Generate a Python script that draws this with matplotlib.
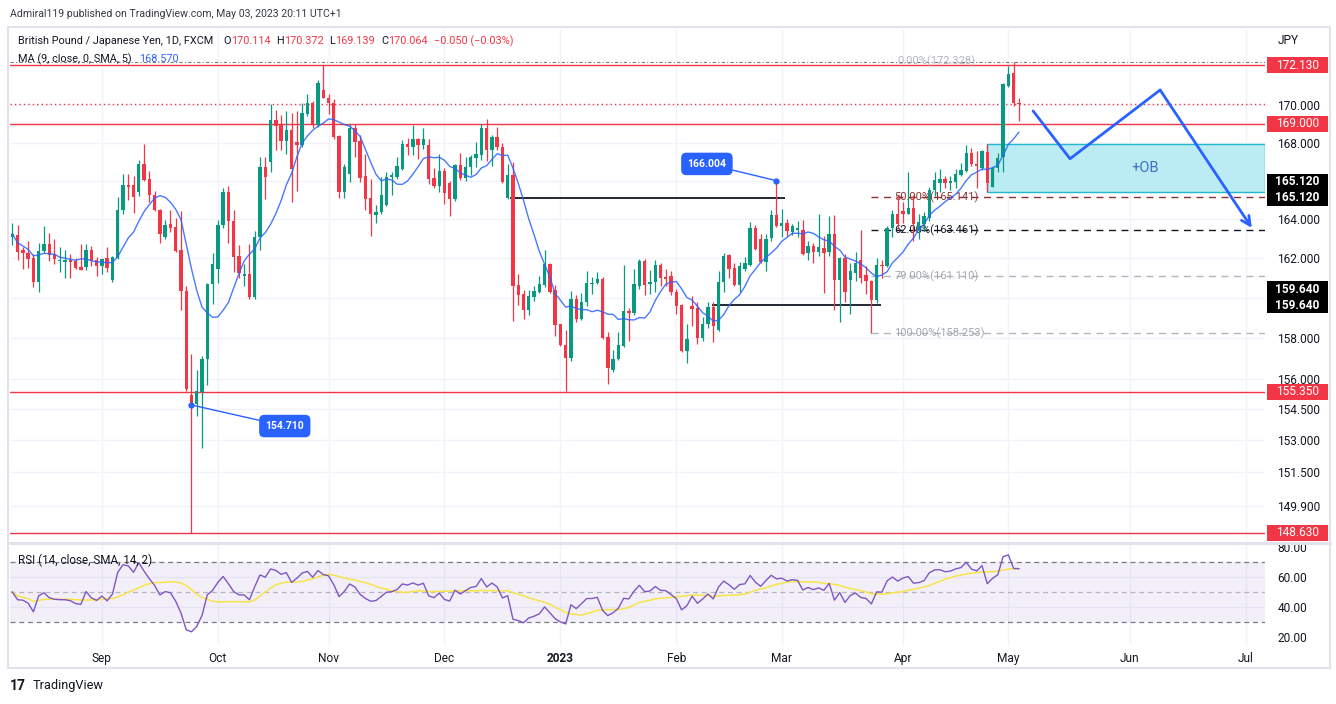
import numpy as np
import pandas as pd
import matplotlib
matplotlib.use("Agg")
import matplotlib.pyplot as plt
import matplotlib.transforms as mtransforms
from matplotlib.patches import Rectangle
from matplotlib.lines import Line2D
from matplotlib.ticker import FixedLocator, FuncFormatter, NullLocator

plt.rcParams['font.family'] = ['Roboto', 'DejaVu Sans']

# ---------------- data ----------------
start_date = '2022-08-09'

opens = [163.1, 163.2, 162.45, 162.3, 162.0, 160.8, 162.4, 162.75, 162.25, 161.85,
         161.8, 161.9, 161.85, 161.55, 161.55, 162.45, 161.9, 161.6, 162.0, 160.9,
         162.0, 164.5, 165.8, 165.8, 165.4, 166.85, 166.1, 165.25, 164.5, 163.1,
         163.75, 163.6, 162.45, 160.35, 155.2, 154.75, 155.35, 156.95, 160.7, 161.45,
         163.7, 165.4, 163.9, 162.1, 161.1, 161.2, 160.05, 163.1, 166.7, 167.0,
         169.2, 169.0, 168.1, 168.65, 168.05, 167.85, 169.5, 170.1, 168.95, 170.8,
         170.35, 170.1, 168.35, 165.4, 166.35, 168.75, 168.1, 166.25, 165.1, 164.2,
         164.4, 164.75, 166.2, 166.2, 166.6, 167.95, 167.75, 168.2, 167.85, 167.9,
         166.15, 165.75, 166.5, 165.9, 165.05, 166.8, 166.15, 166.7, 167.2, 167.35,
         168.8, 167.6, 168.3, 167.75, 165.1, 166.3, 160.65, 160.2, 159.4, 160.05,
         160.3, 160.65, 161.7, 160.4, 158.7, 157.65, 157.0, 159.95, 158.95, 159.8,
         160.7, 160.75, 160.95, 158.05, 156.4, 156.95, 157.6, 159.35, 159.25, 160.6,
         161.85, 160.7, 160.8, 161.65, 161.05, 161.1, 160.3, 159.65, 157.35, 159.6,
         159.5, 158.0, 158.7, 159.55, 158.4, 160.8, 162.15, 161.5, 160.65, 161.45,
         161.65, 163.55, 163.0, 161.8, 163.05, 164.2, 163.65, 163.8, 163.35, 163.45,
         163.45, 162.3, 162.65, 162.35, 162.55, 162.35, 163.25, 160.9, 162.0, 160.9,
         161.25, 161.9, 161.15, 160.85, 159.9, 161.65, 161.6, 163.55, 164.3, 164.45,
         164.3, 164.6, 163.45, 163.75, 164.05, 165.5, 165.9, 166.1, 165.9, 165.95,
         166.3, 166.5, 167.45, 166.9, 166.65, 167.5, 165.7, 166.65, 167.25, 171.0,
         171.7, 170.114]

highs = [163.8, 163.7, 162.6, 162.9, 162.2, 162.8, 163.65, 163.3, 163.0, 162.6,
         162.45, 162.2, 162.0, 162.75, 162.75, 162.65, 162.05, 162.0, 162.6, 162.1,
         165.15, 166.35, 166.35, 166.25, 167.1, 167.95, 166.5, 165.45, 164.55, 163.95,
         164.5, 164.05, 164.45, 160.6, 157.2, 156.4, 157.1, 160.75, 162.3, 163.95,
         165.6, 165.75, 164.5, 162.7, 161.7, 162.75, 163.4, 167.25, 167.25, 170.05,
         169.75, 169.45, 169.7, 169.55, 169.7, 170.1, 170.6, 170.2, 171.35, 172.13,
         170.6, 170.3, 168.4, 166.9, 169.0, 169.0, 168.4, 167.4, 166.1, 164.75,
         166.2, 166.45, 166.45, 167.25, 168.15, 168.25, 168.95, 168.25, 168.75, 168.2,
         166.65, 167.4, 166.65, 166.0, 166.85, 167.45, 167.25, 167.35, 168.05, 169.0,
         169.25, 168.4, 168.85, 168.0, 166.9, 167.0, 161.2, 160.4, 160.4, 160.6,
         161.1, 162.45, 161.75, 160.65, 158.7, 158.4, 160.35, 160.15, 160.25, 161.35,
         161.05, 161.3, 161.05, 158.3, 157.4, 158.3, 161.65, 159.5, 161.45, 161.95,
         161.95, 161.4, 161.9, 161.75, 161.45, 161.35, 160.45, 159.7, 158.7, 160.1,
         159.8, 159.05, 159.8, 159.8, 161.35, 162.3, 162.25, 161.75, 161.8, 162.05,
         163.85, 163.7, 163.25, 163.25, 164.5, 166.004, 164.55, 164.0, 163.75, 163.9,
         163.95, 162.9, 162.8, 164.3, 163.15, 164.15, 164.2, 162.05, 162.25, 161.75,
         162.35, 163.45, 161.6, 160.9, 162.0, 161.9, 163.65, 164.5, 165.25, 164.9,
         166.45, 165.25, 164.25, 164.4, 165.65, 166.45, 166.6, 166.25, 166.25, 166.6,
         166.95, 167.9, 167.7, 167.55, 167.6, 167.95, 166.75, 167.45, 171.15, 172.1,
         172.328, 170.372]

lows = [162.7, 161.9, 161.45, 161.5, 160.55, 160.3, 162.3, 161.85, 161.7, 161.3,
        161.0, 161.0, 161.45, 161.4, 161.4, 161.6, 161.1, 161.2, 161.3, 160.8,
        161.95, 164.25, 165.0, 164.35, 165.2, 166.0, 164.9, 164.45, 162.8, 163.0,
        163.35, 162.35, 159.4, 155.4, 148.63, 154.2, 152.65, 155.7, 159.7, 160.75,
        163.55, 162.8, 161.3, 161.0, 160.6, 159.95, 159.95, 162.45, 165.05, 166.45,
        167.6, 167.6, 167.4, 164.9, 165.45, 167.75, 169.4, 168.75, 168.85, 170.35,
        169.5, 168.2, 165.1, 165.1, 165.95, 167.25, 165.95, 164.5, 163.15, 163.8,
        164.25, 164.7, 165.25, 166.1, 166.55, 167.35, 167.35, 167.15, 167.65, 165.85,
        165.6, 165.4, 164.8, 164.15, 164.95, 166.05, 166.0, 166.3, 166.7, 167.1,
        167.05, 166.75, 167.6, 165.9, 165.05, 158.85, 159.65, 158.95, 159.15, 159.85,
        160.25, 160.55, 160.25, 158.1, 157.6, 155.4, 156.85, 158.8, 158.9, 159.6,
        160.2, 160.7, 157.95, 155.75, 156.3, 156.9, 157.55, 157.85, 159.15, 160.45,
        160.15, 160.2, 160.3, 160.6, 160.6, 160.15, 159.2, 157.3, 156.75, 158.6,
        157.7, 157.85, 158.5, 157.8, 158.35, 160.3, 161.0, 160.6, 160.3, 161.35,
        161.6, 162.45, 161.75, 161.35, 162.9, 163.6, 163.1, 163.15, 163.2, 163.1,
        162.15, 161.9, 161.75, 162.1, 160.25, 162.1, 159.4, 158.8, 159.8, 159.2,
        160.85, 160.75, 160.2, 158.253, 159.75, 161.0, 161.55, 163.1, 163.55, 163.8,
        164.25, 162.9, 163.0, 163.4, 163.9, 165.2, 165.4, 165.6, 165.5, 165.6,
        166.25, 166.45, 166.75, 165.6, 166.55, 165.4, 165.65, 166.45, 166.45, 170.95,
        169.95, 169.139]

closes = [163.25, 162.35, 162.3, 161.95, 160.8, 162.4, 162.75, 162.15, 161.95, 161.9,
          161.9, 161.8, 161.5, 161.42, 162.45, 161.85, 161.6, 161.95, 161.5, 162.05,
          164.5, 165.8, 165.7, 165.15, 166.85, 166.05, 165.25, 164.5, 163.25, 163.7,
          163.55, 162.4, 160.35, 155.5, 154.71, 155.4, 156.95, 160.7, 161.7, 163.7,
          165.4, 163.9, 162.05, 161.25, 161.2, 160.05, 163.1, 166.7, 166.2, 169.2,
          168.9, 168.1, 168.65, 166.6, 167.85, 169.55, 170.1, 168.95, 171.15, 170.35,
          170.1, 168.3, 165.4, 166.7, 168.75, 168.05, 166.15, 165.05, 164.25, 164.4,
          165.25, 166.2, 166.3, 166.75, 167.95, 167.75, 168.2, 167.85, 168.2, 166.1,
          165.75, 166.5, 165.35, 165.05, 166.8, 166.15, 166.7, 167.25, 167.4, 168.8,
          167.6, 168.3, 167.75, 165.95, 166.3, 160.6, 160.15, 159.4, 160.1, 160.35,
          160.7, 161.7, 160.3, 158.65, 157.65, 157.0, 159.95, 158.95, 159.8, 160.75,
          160.75, 160.95, 158.0, 156.5, 156.95, 157.65, 159.35, 159.25, 160.7, 161.85,
          160.65, 160.8, 161.65, 161.0, 160.95, 160.3, 159.6, 157.35, 157.95, 159.45,
          158.0, 158.7, 159.55, 158.6, 160.8, 162.1, 161.45, 160.65, 161.6, 161.75,
          163.55, 162.5, 161.8, 163.0, 164.2, 163.65, 163.8, 163.4, 163.65, 163.55,
          162.25, 162.65, 162.35, 162.6, 162.3, 163.25, 160.9, 162.0, 160.3, 161.35,
          161.75, 161.0, 160.85, 159.9, 161.65, 161.6, 163.55, 164.3, 163.75, 164.3,
          164.6, 163.75, 163.85, 164.15, 165.5, 166.05, 166.1, 165.9, 166.0, 166.35,
          166.55, 167.45, 166.9, 166.75, 167.55, 165.9, 166.65, 167.2, 171.1, 171.65,
          170.1, 170.064]

price_ticks = [170.0, 168.0, 164.0, 162.0, 160.0, 158.0, 156.0, 154.5, 153.0, 151.5, 149.9]
price_grid = [170.0, 168.0, 166.0, 164.0, 162.0, 160.0, 158.0, 156.0, 154.5, 153.0, 151.5, 149.9]
rsi_ticks = [80, 60, 40, 20]

red_levels = [172.13, 169.0, 155.35, 148.63]
red_labels = ['172.130', '169.000', '155.350', '148.630']

black_levels = [165.12, 159.64]
black_starts = [94.5, 132.7]
black_ends = [146.7, 164.8]
black_labels = ['165.120', '159.640']

fib_top = 172.328
fib_labels = ['50.00%(165.141)', '62.00%(163.461)', '79.00%(161.110)', '100.00%(158.253)']
fib_values = [165.141, 163.461, 161.110, 158.253]
fib_colors = ['#8b3131', '#131722', '#b2b5be', '#b2b5be']
fib_text_colors = ['#8b3131', '#131722', '#a3a6af', '#a3a6af']
fib_start = 163

ob_bar = 185
proj_x = [193.7, 200.7, 217.8, 235.2]
proj_y = [169.68, 167.15, 170.80, 163.56]

callout_values = ['166.004', '154.710']
callout_bars = [145, 34]
callout_prices = [166.004, 154.71]
callout_box_x = [131.8, 51.7]
callout_box_y = [166.88, 153.69]

header = 'Admiral119 published on TradingView.com, May 03, 2023 20:11 UTC+1'

# ---------------- style ----------------
GREEN = '#089981'
RED = '#f23645'
BLUE = '#2962ff'
TXT = '#131722'
GRID = '#f0f3fa'

W, H = 1336, 704
def fx(x):
    return x / W
def fy(y):
    return 1 - y / H

fig = plt.figure(figsize=(W / 100, H / 100), dpi=100)
fig.patch.set_facecolor('white')

AX_L, AX_R = 10, 1265
ax = fig.add_axes([fx(AX_L), fy(541), (AX_R - AX_L) / W, 511 / H])
axr = fig.add_axes([fx(AX_L), fy(645), (AX_R - AX_L) / W, 102 / H])

n = len(closes)
idx = np.arange(n)
o = np.array(opens); h = np.array(highs); l = np.array(lows); c = np.array(closes)
XMIN, XMAX = -0.44, 237.7
YMIN, YMAX = 148.24, 174.05
K = 511 / np.log(YMAX / YMIN)   # pixels per log-unit in the price pane

# ---- price pane ----
ax.set_yscale('log')
ax.set_xlim(XMIN, XMAX)
ax.set_ylim(YMIN, YMAX)
for s in ax.spines.values():
    s.set_visible(False)

ext_dates = pd.bdate_range(start_date, periods=260)
month_idx, month_lbl = [], []
for i in range(1, len(ext_dates)):
    if ext_dates[i].month != ext_dates[i - 1].month and XMIN <= i <= XMAX:
        month_idx.append(i)
        d = ext_dates[i]
        month_lbl.append(str(d.year) if d.month == 1 else d.strftime('%b'))

for xi in month_idx:
    ax.axvline(xi, color=GRID, lw=1, zorder=0)
    axr.axvline(xi, color=GRID, lw=1, zorder=0)
for py in price_grid:
    ax.axhline(py, color=GRID, lw=1, zorder=0)

ax.yaxis.tick_right()
ax.yaxis.set_major_locator(FixedLocator(price_ticks))
ax.yaxis.set_minor_locator(NullLocator())
ax.yaxis.set_major_formatter(FuncFormatter(lambda v, p: f'{v:.3f}'))
ax.tick_params(axis='y', length=0, pad=9, labelsize=8.6, labelcolor=TXT)
ax.set_xticks([])

# OB zone
ob = Rectangle((ob_bar - 0.1, l[ob_bar]), XMAX - ob_bar + 0.1, h[ob_bar] - l[ob_bar],
               facecolor='#bcecf3', edgecolor='#22b8cf', lw=1, zorder=1)
ax.add_patch(ob)
ax.text(215, np.sqrt(l[ob_bar] * h[ob_bar]), '+OB', color='#3f6fc2', fontsize=10.5,
        ha='center', va='center', zorder=2)

# horizontal levels
for lv in red_levels:
    ax.axhline(lv, color=RED, lw=1, zorder=2)
ax.axhline(c[-1], color=RED, lw=1, ls=(0, (1, 2.2)), zorder=2)
ax.axhline(fib_top, color='#787b86', lw=0.8, ls=(0, (3, 2, 1, 2)), zorder=2)
ax.text(167.9, fib_top, '0.00%(172.328)', color='#b2b5be', fontsize=8, va='center', ha='left', zorder=2)

for v, col, tcol, lab in zip(fib_values, fib_colors, fib_text_colors, fib_labels):
    ax.hlines(v, fib_start, XMAX, color=col, lw=1, ls=(0, (5, 4)), zorder=2)
    ax.text(167.4, v, lab, color=tcol, fontsize=8, va='center', ha='left', zorder=2)

for lv, xs, xe in zip(black_levels, black_starts, black_ends):
    ax.hlines(lv, xs, xe, color=TXT, lw=1.3, zorder=2)

# candles
cols = np.where(c >= o, GREEN, RED)
ax.vlines(idx, l, h, colors=cols, lw=0.9, zorder=3)
body_lo = np.minimum(o, c)
body_h = np.maximum(np.abs(c - o), 0.03)
ax.bar(idx, body_h, bottom=body_lo, width=0.64, color=cols, lw=0, zorder=4)

# MA 9
ma = pd.Series(c).rolling(9, min_periods=1).mean()
ax.plot(idx, ma, color='#2962ff', lw=1.0, alpha=0.85, zorder=5)

# projection path
ax.plot(proj_x[:-1], proj_y[:-1], color=BLUE, lw=2, solid_capstyle='round', zorder=6)
ax.annotate('', xy=(proj_x[-1], proj_y[-1]), xytext=(proj_x[-2], proj_y[-2]),
            arrowprops=dict(arrowstyle='->', color=BLUE, lw=2, shrinkA=0, shrinkB=0,
                            mutation_scale=16), zorder=6)

# callouts
for txt, bx, by, px_, py_ in zip(callout_values, callout_box_x, callout_box_y, callout_bars, callout_prices):
    ax.plot([px_], [py_], 'o', color=BLUE, ms=3.5, zorder=7)
    ax.annotate(txt, xy=(px_, py_), xytext=(bx, by), textcoords='data',
                ha='center', va='center', color='white', fontsize=7.5, fontweight='bold',
                bbox=dict(boxstyle='round,pad=0.6,rounding_size=0.5', fc=BLUE, ec='none'),
                arrowprops=dict(arrowstyle='-', color=BLUE, lw=1, shrinkA=0, shrinkB=0),
                zorder=7)

# right-side price labels (boxes 61 px wide, 16 px tall)
blend = mtransforms.blended_transform_factory(ax.transAxes, ax.transData)
LX0 = (1267 - AX_L) / (AX_R - AX_L)
LW_ = 61 / (AX_R - AX_L)
def price_label(level, text, fc, dy_px=0, bold=False):
    center = level * np.exp(dy_px / K)
    y0 = center * np.exp(-8 / K)
    y1 = center * np.exp(8 / K)
    ax.add_patch(Rectangle((LX0, y0), LW_, y1 - y0, transform=blend, facecolor=fc,
                           edgecolor='none', clip_on=False, zorder=10))
    ax.text(LX0 + LW_ / 2, center, text, transform=blend, color='white', fontsize=8.6,
            fontweight='bold' if bold else 'normal', ha='center', va='center',
            zorder=11, clip_on=False)

for lv, lab in zip(red_levels, red_labels):
    price_label(lv, lab, RED)
for lv, lab in zip(black_levels, black_labels):
    price_label(lv, lab, '#000000', 0, True)
    price_label(lv, lab, '#000000', 16, True)

# ---- RSI pane ----
delta = np.diff(c)
ag, al = 0.3, 0.3
rsi = [50.0]
for dlt in delta:
    g = max(dlt, 0.0); ls_ = max(-dlt, 0.0)
    ag = (ag * 13 + g) / 14
    al = (al * 13 + ls_) / 14
    rsi.append(100 - 100 / (1 + ag / al))
rsi = np.array(rsi)
rsi_ma = pd.Series(rsi).rolling(14, min_periods=1).mean()

axr.set_xlim(XMIN, XMAX)
axr.set_ylim(14.67, 82.67)
for s in axr.spines.values():
    s.set_visible(False)
for ry in [60, 40]:
    axr.axhline(ry, color=GRID, lw=1, zorder=0)
axr.axhspan(30, 70, color='#7e57c2', alpha=0.09, lw=0, zorder=0)
axr.axhline(70, color='#787b86', lw=0.9, ls=(0, (4, 3)), zorder=1)
axr.axhline(30, color='#787b86', lw=0.9, ls=(0, (4, 3)), zorder=1)
axr.axhline(50, color='#787b86', lw=0.9, ls=(0, (4, 3)), alpha=0.5, zorder=1)
axr.plot(idx, rsi_ma, color='#f7e448', lw=1.1, zorder=2)
axr.plot(idx, rsi, color='#7e57c2', lw=1.0, zorder=3)

axr.yaxis.tick_right()
axr.set_yticks(rsi_ticks)
axr.yaxis.set_major_formatter(FuncFormatter(lambda v, p: f'{v:.2f}'))
axr.tick_params(axis='y', length=0, pad=9, labelsize=8.6, labelcolor=TXT)
axr.set_xticks(month_idx)
axr.set_xticklabels(month_lbl)
axr.tick_params(axis='x', length=0, pad=5, labelsize=8.6, labelcolor=TXT)
for t in axr.get_xticklabels():
    if t.get_text().isdigit():
        t.set_fontweight('bold')

# ---- frame, separators ----
fig.add_artist(Rectangle((fx(8), fy(668)), 1322 / W, 641 / H, transform=fig.transFigure,
                         fill=False, ec='#e0e3eb', lw=1.5))
fig.add_artist(Line2D([fx(8), fx(1330)], [fy(542.5), fy(542.5)], transform=fig.transFigure,
                      color='#e0e3eb', lw=2.2))

# ---- texts ----
def chain(x, y, parts, size=8.0):
    t = fig.text(fx(x), fy(y), parts[0][0], color=parts[0][1], fontsize=size, va='center', ha='left')
    prev = t
    for s, col, gap in parts[1:]:
        prev = ax.annotate(s, xy=(1, 0.5), xycoords=prev, xytext=(gap, 0), textcoords='offset pixels',
                           va='center', ha='left', color=col, fontsize=size, annotation_clip=False)
    return t

fig.text(fx(10), fy(14), header, color='#363a45', fontsize=7.6, va='center', ha='left')
chain(18, 41, [('British Pound / Japanese Yen, 1D, FXCM', TXT),
               ('O', TXT, 10), ('170.114', RED, 0),
               ('H', TXT, 6), ('170.372', RED, 0),
               ('L', TXT, 6), ('169.139', RED, 0),
               ('C', TXT, 6), ('170.064', RED, 0),
               ('\u22120.050 (\u22120.03%)', RED, 6)], size=7.8)
chain(18, 59, [('MA (9, close, 0, SMA, 5)', TXT), ('168.570', BLUE, 7)], size=7.8)
chain(18, 560, [('RSI (14, close, SMA, 14, 2)', TXT), ('65.33', '#7e57c2', 8),
                ('65.63', '#f0d21a', 7), ('\u2205', TXT, 7), ('\u2205', TXT, 5)], size=8.4)
fig.text(fx(1278), fy(41), 'JPY', color=TXT, fontsize=8.6, va='center', ha='left')

fig.text(fx(10), fy(686), '17', color=TXT, fontsize=10, fontweight='bold', va='center', ha='left')
fig.text(fx(33), fy(686), 'TradingView', color=TXT, fontsize=9.2, va='center', ha='left')

fig.savefig('out.png', dpi=100, facecolor='white')
